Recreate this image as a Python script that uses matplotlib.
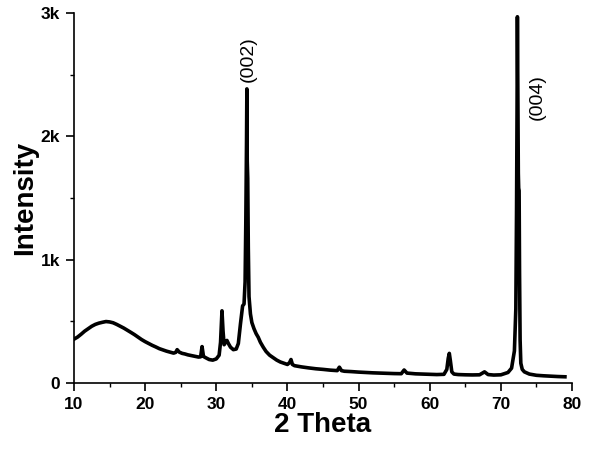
import matplotlib
matplotlib.use("Agg")
import matplotlib.pyplot as plt
from matplotlib.ticker import MultipleLocator, FuncFormatter

# --- data (2 theta, intensity) ---
two_theta = [10.0, 10.5, 11.0, 11.5, 12.0, 12.5, 13.0, 13.5, 14.0, 14.5, 15.0,
             15.5, 16.0, 16.5, 17.0, 17.5, 18.0, 18.5, 19.0, 19.5, 20.0, 20.5,
             21.0, 21.5, 22.0, 22.5, 23.0, 23.5, 24.0, 24.3, 24.5, 24.8, 25.2,
             25.6, 26.0, 26.5, 27.0, 27.5, 27.8, 28.0, 28.2, 28.5, 29.0, 29.5,
             30.0, 30.4, 30.6, 30.8, 30.95, 31.1, 31.3, 31.5, 31.7, 32.0, 32.4,
             32.8, 33.1, 33.4, 33.7, 33.9, 34.05, 34.15, 34.25, 34.3, 34.35,
             34.42, 34.5, 34.6, 34.8, 35.0, 35.3, 35.6, 35.9, 36.2, 36.6, 37.0,
             37.5, 38.0, 38.5, 39.0, 39.5, 40.0, 40.3, 40.5, 40.7, 41.0, 42.0,
             43.0, 44.0, 45.0, 46.0, 47.0, 47.3, 47.6, 48.0, 49.0, 50.0, 51.0,
             52.0, 53.0, 54.0, 55.0, 56.0, 56.4, 56.8, 57.5, 58.0, 59.0, 60.0,
             61.0, 62.0, 62.4, 62.6, 62.75, 62.9, 63.1, 63.4, 64.0, 65.0, 66.0,
             67.0, 67.7, 68.2, 69.0, 70.0, 71.0, 71.5, 71.9, 72.1, 72.2, 72.27,
             72.32, 72.38, 72.45, 72.5, 72.56, 72.62, 72.7, 72.8, 73.0, 73.3,
             73.7, 74.0, 75.0, 76.0, 77.0, 78.0, 79.0]
intensity = [355, 372, 395, 420, 440, 460, 475, 485, 492, 498, 495,
             488, 475, 460, 445, 428, 410, 392, 372, 352, 335, 320,
             305, 292, 278, 268, 258, 250, 242, 248, 270, 250, 240,
             235, 228, 222, 216, 210, 212, 295, 215, 205, 190, 185,
             195, 225, 330, 585, 420, 310, 330, 345, 320, 290, 270,
             275, 320, 480, 625, 640, 820, 1300, 1950, 2385, 1800,
             1660, 1100, 700, 560, 490, 440, 400, 370, 330, 290, 255,
             225, 205, 185, 170, 160, 150, 165, 190, 150, 140, 130,
             122, 115, 110, 104, 100, 128, 100, 95, 92, 88, 85,
             82, 80, 78, 76, 75, 105, 80, 76, 74, 72, 70,
             68, 70, 110, 200, 240, 180, 90, 72, 68, 66, 65,
             66, 90, 68, 64, 66, 85, 120, 260, 600, 1400, 2200,
             2970, 2400, 1700, 1580, 1560, 900, 350, 160, 110, 90,
             80, 72, 62, 58, 55, 52, 50]

xlabel = "2 Theta"
ylabel = "Intensity"
peak_labels = ["(002)", "(004)"]
peak_pos = [(34.45, 2440), (75.1, 2130)]

plt.rcParams['font.family'] = ['Liberation Sans', 'DejaVu Sans']

fig = plt.figure(figsize=(5.99, 4.5), dpi=100)
ax = fig.add_axes([0.1235, 0.149, 0.8315, 0.822])

ax.plot(two_theta, intensity, color='black', linewidth=2.6)

for lab, (px, py) in zip(peak_labels, peak_pos):
    ax.text(px, py, lab, rotation=90, ha='center', va='bottom', fontsize=14)

ax.set_xlim(10, 80)
ax.set_ylim(0, 3000)
ax.xaxis.set_major_locator(MultipleLocator(10))
ax.xaxis.set_minor_locator(MultipleLocator(5))
ax.yaxis.set_major_locator(MultipleLocator(1000))
ax.yaxis.set_minor_locator(MultipleLocator(500))
ax.yaxis.set_major_formatter(FuncFormatter(lambda v, p: "0" if v == 0 else f"{int(v / 1000)}k"))

for s in ['top', 'right']:
    ax.spines[s].set_visible(False)
for s in ['left', 'bottom']:
    ax.spines[s].set_linewidth(1.2)

ax.tick_params(which='major', direction='out', length=6, width=1.2, labelsize=12.5, pad=4)
ax.tick_params(which='minor', direction='out', length=3, width=1.0)
for t in ax.get_xticklabels() + ax.get_yticklabels():
    t.set_fontweight('bold')

ax.set_xlabel(xlabel, fontsize=20, fontweight='bold', labelpad=0)
ax.set_ylabel(ylabel, fontsize=20, fontweight='bold', labelpad=2)

fig.savefig("out.png", dpi=100)
